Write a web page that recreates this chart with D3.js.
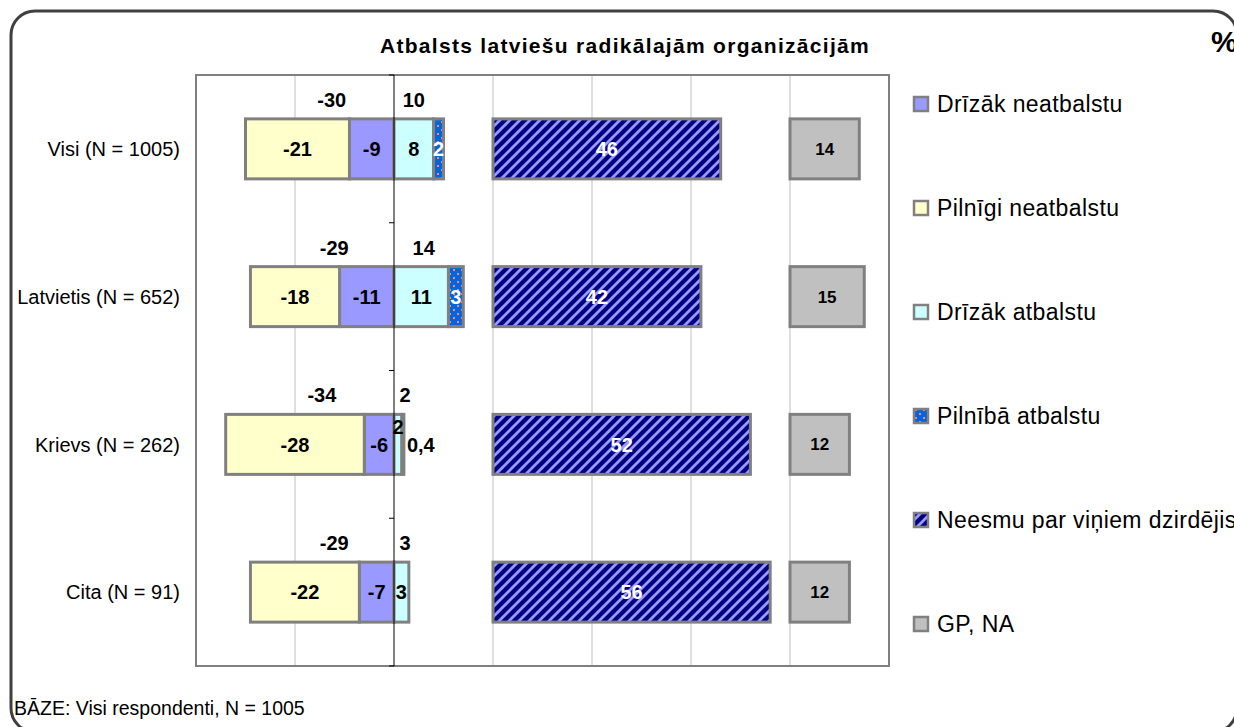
<!DOCTYPE html>
<html>
<head>
<meta charset="utf-8">
<title>Atbalsts latviešu radikālajām organizācijām</title>
<script src="https://cdn.jsdelivr.net/npm/d3@7"></script>
<style>
  body { margin: 0; background: #fff; overflow: hidden; }
  text { font-family: "Liberation Sans", Arial, sans-serif; }
</style>
</head>
<body>
<script>
  // dati
  let kategorijas = ['Visi (N = 1005)', 'Latvietis (N = 652)', 'Krievs (N = 262)', 'Cita (N = 91)'];
  let pilnigiNeatbalstu = [-21, -18, -28, -22];
  let drizakNeatbalstu = [-9, -11, -6, -7];
  let drizakAtbalstu = [8, 11, 1.6, 3];
  let pilnibaAtbalstu = [2, 3, 0.4, 0];
  let neesmuDzirdejis = [46, 42, 52, 56];
  let gpNa = [14, 15, 12, 12];
  let kopaNegativi = [-30, -29, -34, -29];
  let kopaPozitivi = [10, 14, 2, 3];
  let legenda = ['Drīzāk neatbalstu', 'Pilnīgi neatbalstu', 'Drīzāk atbalstu',
    'Pilnībā atbalstu', 'Neesmu par viņiem dzirdējis', 'GP, NA'];
  let rezgis = [-20, 0, 20, 40, 60, 80];
  let nobideNeesmu = 20;
  let nobideGp = 80;

  let width = 1234;
  let height = 727;

  let svg = d3.select('body').append('svg')
    .attr('width', width)
    .attr('height', height);

  let defs = svg.append('defs');
  let svitras = defs.append('pattern')
    .attr('id', 'svitras')
    .attr('patternUnits', 'userSpaceOnUse')
    .attr('width', 10).attr('height', 10);
  svitras.append('rect').attr('width', 10).attr('height', 10).attr('fill', '#000080');
  svitras.append('path')
    .attr('d', 'M-1,1 l2,-2 M0,10 l10,-10 M9,11 l2,-2')
    .attr('stroke', '#9999ff').attr('stroke-width', 2.8);

  let punkti = defs.append('pattern')
    .attr('id', 'punkti')
    .attr('patternUnits', 'userSpaceOnUse')
    .attr('width', 8).attr('height', 8);
  punkti.append('rect').attr('width', 8).attr('height', 8).attr('fill', '#0066dd');
  punkti.append('rect').attr('x', 1).attr('y', 1).attr('width', 2).attr('height', 2).attr('fill', '#ff8080');
  punkti.append('rect').attr('x', 5).attr('y', 5).attr('width', 2).attr('height', 2).attr('fill', '#ff8080');

  // ārējais rāmis
  svg.append('rect')
    .attr('x', 11).attr('y', 11)
    .attr('width', 1226).attr('height', 721)
    .attr('rx', 24)
    .attr('fill', '#fff')
    .attr('stroke', '#404040')
    .attr('stroke-width', 3);

  let plot = {left: 196, right: 889, top: 75, bottom: 666};

  let x = d3.scaleLinear()
    .domain([-40, 100])
    .range([plot.left, plot.right]);

  let y = d3.scaleBand()
    .domain(kategorijas)
    .range([plot.top, plot.bottom])
    .paddingInner(0.594)
    .paddingOuter(0.297);

  // režģis
  svg.append('g').selectAll('line').data(rezgis.filter(d => d !== 0)).enter()
    .append('line')
    .attr('x1', x).attr('x2', x)
    .attr('y1', plot.top).attr('y2', plot.bottom)
    .attr('stroke', '#c0c0c0').attr('stroke-width', 1);

  svg.append('rect')
    .attr('x', plot.left).attr('y', plot.top)
    .attr('width', plot.right - plot.left).attr('height', plot.bottom - plot.top)
    .attr('fill', 'none').attr('stroke', '#808080').attr('stroke-width', 2);

  svg.append('text')
    .attr('x', 625).attr('y', 53)
    .attr('text-anchor', 'middle')
    .attr('font-weight', 'bold')
    .attr('font-size', 21)
    .attr('letter-spacing', 1.3)
    .text('Atbalsts latviešu radikālajām organizācijām');

  svg.append('text')
    .attr('x', 1211).attr('y', 52)
    .attr('font-weight', 'bold')
    .attr('font-size', 30)
    .text('%');

  // segmenti
  let segmenti = [];
  kategorijas.forEach(function (k, i) {
    let dn = drizakNeatbalstu[i], pn = pilnigiNeatbalstu[i];
    let da = drizakAtbalstu[i], pa = pilnibaAtbalstu[i];
    segmenti.push({k: k, x0: dn, x1: 0, v: dn, fill: '#9999ff', col: '#000', size: 20});
    segmenti.push({k: k, x0: dn + pn, x1: dn, v: pn, fill: '#ffffcc', col: '#000', size: 20});
    segmenti.push({k: k, x0: 0, x1: da, v: da, fill: '#ccffff', col: '#000', size: 20, pirms: pa > 0 && pa < 1});
    segmenti.push({k: k, x0: da, x1: da + pa, v: pa, fill: 'url(#punkti)', col: pa < 1 ? '#000' : '#fff', size: 20, ara: pa < 1});
    segmenti.push({k: k, x0: nobideNeesmu, x1: nobideNeesmu + neesmuDzirdejis[i], v: neesmuDzirdejis[i], fill: 'url(#svitras)', col: '#fff', size: 20});
    segmenti.push({k: k, x0: nobideGp, x1: nobideGp + gpNa[i], v: gpNa[i], fill: '#c0c0c0', col: '#000', size: 17});
  });
  segmenti = segmenti.filter(d => d.v !== 0);

  svg.append('g').selectAll('rect').data(segmenti).enter()
    .append('rect')
    .attr('x', d => x(d.x0))
    .attr('y', d => y(d.k))
    .attr('width', d => x(d.x1) - x(d.x0))
    .attr('height', y.bandwidth())
    .attr('fill', d => d.fill)
    .attr('stroke', '#808080')
    .attr('stroke-width', 3);

  function formats(v) {
    return Math.abs(v) < 1 ? String(v).replace('.', ',') : String(Math.round(v));
  }

  svg.append('g').selectAll('text').data(segmenti).enter()
    .append('text')
    .attr('x', d => d.ara ? x(d.x1) + 3 : x((d.x0 + d.x1) / 2))
    .attr('y', d => y(d.k) + y.bandwidth() / 2 + (d.pirms ? -18 : 0))
    .attr('dy', '0.36em')
    .attr('text-anchor', d => d.ara ? 'start' : 'middle')
    .attr('font-weight', 'bold')
    .attr('font-size', d => d.size)
    .attr('fill', d => d.col)
    .text(d => formats(d.v));

  // nulles ass
  svg.append('line')
    .attr('x1', x(0)).attr('x2', x(0))
    .attr('y1', plot.top).attr('y2', plot.bottom)
    .attr('stroke', '#000').attr('stroke-width', 1);
  svg.append('g').selectAll('line').data(d3.range(kategorijas.length + 1)).enter()
    .append('line')
    .attr('x1', x(0) - 5).attr('x2', x(0))
    .attr('y1', d => plot.top + d * y.step())
    .attr('y2', d => plot.top + d * y.step())
    .attr('stroke', '#000');

  // kopsummas
  svg.append('g').selectAll('text').data(kopaNegativi).enter()
    .append('text')
    .attr('x', d => x(d / 2) + 12)
    .attr('y', (d, i) => y(kategorijas[i]) - 12)
    .attr('text-anchor', 'middle')
    .attr('font-weight', 'bold')
    .attr('font-size', 20)
    .text(d => d);
  svg.append('g').selectAll('text').data(kopaPozitivi).enter()
    .append('text')
    .attr('x', d => Math.max(x(d / 2) - 5, x(0) + 11))
    .attr('y', (d, i) => y(kategorijas[i]) - 12)
    .attr('text-anchor', 'middle')
    .attr('font-weight', 'bold')
    .attr('font-size', 20)
    .text(d => d);

  // kategoriju nosaukumi
  svg.append('g').selectAll('text').data(kategorijas).enter()
    .append('text')
    .attr('x', 180)
    .attr('y', d => y(d) + y.bandwidth() / 2)
    .attr('dy', '0.36em')
    .attr('text-anchor', 'end')
    .attr('font-size', 20)
    .text(d => d);

  // leģenda
  let legFill = ['#9999ff', '#ffffcc', '#ccffff', 'url(#punkti)', 'url(#svitras)', '#c0c0c0'];
  let legY = d3.scalePoint().domain(legenda).range([104, 624]);
  let leg = svg.append('g').selectAll('g').data(legenda).enter()
    .append('g')
    .attr('transform', d => `translate(914, ${legY(d)})`);
  leg.append('rect')
    .attr('x', 0).attr('y', -7)
    .attr('width', 14).attr('height', 14)
    .attr('fill', (d, i) => legFill[i])
    .attr('stroke', '#808080').attr('stroke-width', 2.5);
  leg.append('text')
    .attr('x', 23)
    .attr('dy', '0.36em')
    .attr('font-size', 23)
    .attr('letter-spacing', 0.4)
    .text(d => d);

  svg.append('text')
    .attr('x', 14).attr('y', 715)
    .attr('font-size', 19.5)
    .text('BĀZE: Visi respondenti, N = 1005');
</script>
</body>
</html>
